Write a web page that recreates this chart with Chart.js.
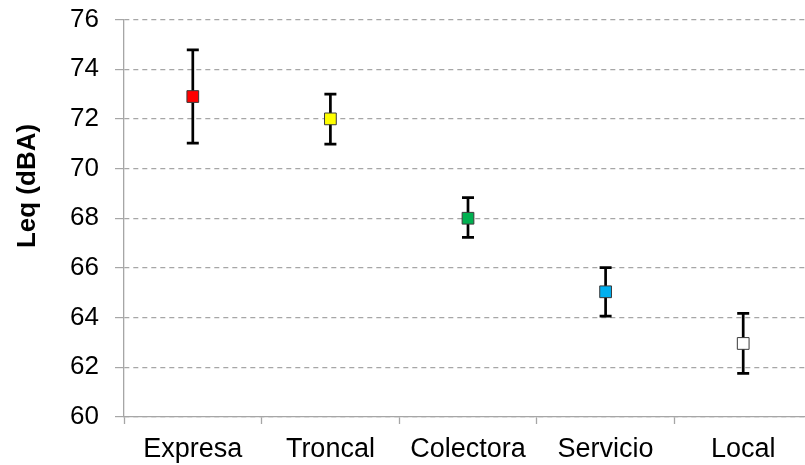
<!DOCTYPE html>
<html>
<head>
<meta charset="utf-8">
<title>Leq por tipo de vía</title>
<script src="https://cdn.jsdelivr.net/npm/chart.js@4/dist/chart.umd.min.js"></script>
<style>
  html, body { margin: 0; padding: 0; background: #ffffff; overflow: hidden; }
  #wrap { position: relative; width: 813px; height: 465px; }
</style>
</head>
<body>
<div id="wrap"><canvas id="chart"></canvas></div>
<script>
// Road categories and measured Leq (dBA): mean with upper / lower limits
const categories = ['Expresa', 'Troncal', 'Colectora', 'Servicio', 'Local'];
const meanLeq  = [72.9, 72.0, 68.0, 65.04, 62.96];
const upperLeq = [74.78, 73.0, 68.83, 66.01, 64.17];
const lowerLeq = [71.02, 70.98, 67.23, 64.06, 61.76];
const markerColors = ['#ff0000', '#ffff00', '#00b050', '#00b0f0', '#ffffff'];
const yTitle = 'Leq (dBA)';

const FONT = '"Liberation Sans", Arial, sans-serif';
const GRID = '#a6a6a6';

// Vertical whiskers with caps, placed through the chart's own scales
const errorBars = {
  id: 'errorBars',
  beforeDatasetsDraw(chart) {
    const { ctx, scales: { x, y } } = chart;
    const cap = 6;
    ctx.save();
    ctx.strokeStyle = '#000000';
    ctx.lineWidth = 2.7;
    ctx.lineCap = 'butt';
    categories.forEach((c, i) => {
      const px = x.getPixelForValue(i);
      const top = y.getPixelForValue(upperLeq[i]);
      const bot = y.getPixelForValue(lowerLeq[i]);
      ctx.beginPath();
      ctx.moveTo(px, top);
      ctx.lineTo(px, bot);
      ctx.moveTo(px - cap, top);
      ctx.lineTo(px + cap, top);
      ctx.moveTo(px - cap, bot);
      ctx.lineTo(px + cap, bot);
      ctx.stroke();
    });
    ctx.restore();
  }
};

// Rotated axis title on the left
const axisTitle = {
  id: 'axisTitle',
  afterDraw(chart) {
    const { ctx } = chart;
    ctx.save();
    ctx.translate(35, 186);
    ctx.rotate(-Math.PI / 2);
    ctx.font = 'bold 26px ' + FONT;
    ctx.fillStyle = '#000000';
    ctx.textAlign = 'center';
    ctx.textBaseline = 'alphabetic';
    ctx.fillText(yTitle, 0, 0);
    ctx.restore();
  }
};

new Chart(document.getElementById('chart'), {
  type: 'line',
  data: {
    labels: categories,
    datasets: [{
      data: meanLeq,
      showLine: false,
      pointStyle: 'rect',
      pointRadius: 8.3,
      pointHoverRadius: 8.3,
      pointBackgroundColor: markerColors,
      pointBorderColor: '#3a3a3a',
      pointBorderWidth: 1
    }]
  },
  options: {
    responsive: true,
    maintainAspectRatio: false,
    animation: false,
    devicePixelRatio: 1,
    // the plot runs slightly past the right edge of the page
    layout: { autoPadding: false, padding: { left: 0, top: 19.5, right: 1, bottom: 0 } },
    plugins: { legend: { display: false }, tooltip: { enabled: false } },
    scales: {
      x: {
        type: 'category',
        offset: true,
        border: { display: true, color: GRID, width: 1.3 },
        grid: {
          offset: true,
          drawOnChartArea: false,
          drawTicks: true,
          tickLength: 7,
          tickColor: GRID,
          tickWidth: 1.3
        },
        ticks: {
          color: '#000000',
          font: { family: FONT, size: 27 },
          padding: 9,
          maxRotation: 0,
          autoSkip: false
        },
        afterFit(scale) {
          scale.height = 48;
          scale.paddingLeft = 0;
          scale.paddingRight = 0;
        }
      },
      y: {
        min: 60,
        max: 76,
        border: { display: true, color: GRID, width: 1.3, dash: [5, 4] },
        grid: {
          color: GRID,
          lineWidth: 1.2,
          tickBorderDash: [],
          tickLength: 9,
          tickColor: GRID,
          tickWidth: 1.2
        },
        ticks: {
          stepSize: 2,
          color: '#000000',
          font: { family: FONT, size: 26 },
          padding: 16
        },
        afterFit(scale) {
          scale.width = 124;
          scale.paddingTop = 0;
          scale.paddingBottom = 0;
        }
      }
    }
  },
  plugins: [errorBars, axisTitle]
});
</script>
</body>
</html>
